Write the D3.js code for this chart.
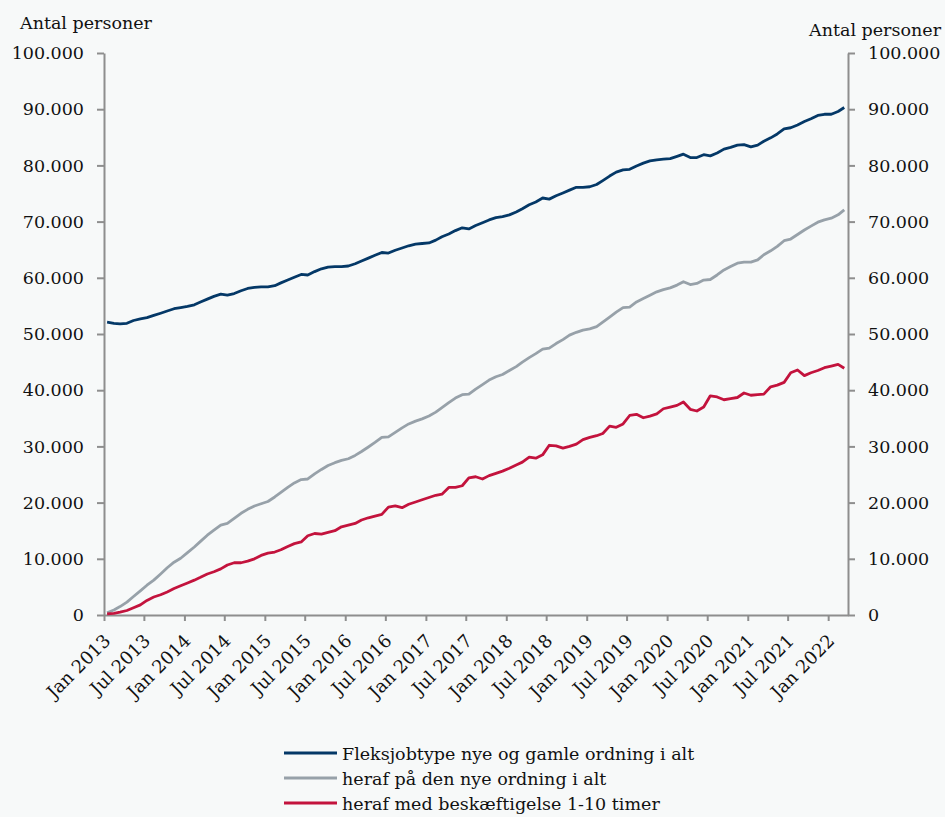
<!DOCTYPE html>
<html>
<head>
<meta charset="utf-8">
<script src="https://cdn.jsdelivr.net/npm/d3@7"></script>
<style>
  html, body { margin: 0; padding: 0; background: #f7f9f9; }
  svg { display: block; }
  text { font-family: "DejaVu Serif", "Liberation Serif", serif; fill: #111; }
</style>
</head>
<body>
<svg id="chart" width="945" height="817"></svg>
<script>
// ---- data ----
const startMonth = "2013-01";
const seriesNames = [
  "Fleksjobtype nye og gamle ordning i alt",
  "heraf på den nye ordning i alt",
  "heraf med beskæftigelse 1-10 timer"
];
const total = [
  52100,51900,51800,51900,52400,52700,52900,53300,53700,54100,54500,54700,
  54900,55200,55700,56200,56700,57100,56900,57200,57700,58100,58300,58400,
  58400,58600,59100,59600,60100,60600,60500,61100,61600,61900,62000,62000,
  62100,62500,63000,63500,64000,64500,64400,64900,65300,65700,66000,66100,
  66200,66700,67300,67800,68400,68900,68700,69300,69800,70300,70700,70900,
  71200,71700,72300,73000,73500,74200,74000,74600,75100,75600,76100,76100,
  76200,76600,77300,78100,78800,79200,79300,79900,80400,80800,81000,81100,
  81200,81600,82000,81400,81400,81900,81700,82200,82900,83200,83600,83700,
  83300,83600,84300,84900,85600,86500,86700,87200,87800,88300,88900,89100,
  89100,89600,90300
];
const newScheme = [
  400,900,1500,2300,3300,4300,5300,6200,7300,8400,9400,10100,
  11100,12100,13100,14200,15100,16000,16300,17200,18100,18800,19400,19800,
  20200,21000,21800,22700,23500,24100,24200,25100,25900,26600,27100,27500,
  27800,28400,29100,29900,30700,31600,31700,32500,33300,34000,34500,34900,
  35400,36100,36900,37800,38600,39200,39300,40200,41000,41800,42400,42800,
  43500,44200,45000,45800,46500,47300,47500,48300,49000,49800,50300,50700,
  50900,51300,52100,53000,53900,54700,54800,55700,56300,56900,57500,57900,
  58200,58700,59300,58800,59000,59600,59700,60500,61400,62000,62600,62800,
  62800,63200,64100,64800,65600,66600,66900,67700,68500,69200,69900,70300,
  70600,71200,72100
];
const hours1to10 = [
  200,300,500,800,1300,1800,2600,3200,3600,4100,4700,5200,
  5700,6200,6700,7300,7700,8200,8900,9300,9300,9600,10000,10600,
  11000,11200,11600,12200,12700,13000,14100,14500,14400,14700,15000,15700,
  16000,16300,16900,17300,17600,17900,19200,19400,19100,19700,20100,20500,
  20900,21300,21500,22700,22700,23000,24400,24600,24200,24800,25200,25600,
  26100,26700,27200,28100,27900,28500,30200,30100,29700,30000,30400,31200,
  31600,31900,32300,33600,33400,34000,35500,35700,35100,35400,35800,36700,
  37000,37300,37900,36600,36300,37000,39000,38800,38300,38500,38700,39500,
  39100,39200,39300,40600,40900,41400,43100,43600,42600,43100,43500,44000,
  44300,44600,43900
];
const yTicks = [0,10000,20000,30000,40000,50000,60000,70000,80000,90000,100000];
const xTickLabels = ["Jan 2013","Jul 2013","Jan 2014","Jul 2014","Jan 2015","Jul 2015",
  "Jan 2016","Jul 2016","Jan 2017","Jul 2017","Jan 2018","Jul 2018","Jan 2019",
  "Jul 2019","Jan 2020","Jul 2020","Jan 2021","Jul 2021","Jan 2022"];
const colors = ["#043867", "#97a1a9", "#c3133d"];
const axisLabel = "Antal personer";

// ---- build ----
(function () {
const svg = d3.select("#chart");
const W = 945, H = 817;
svg.append("rect").attr("width", W).attr("height", H).attr("fill", "#f7f9f9");

const parseMonth = d3.timeParse("%Y-%m");
const start = parseMonth(startMonth);
const months = total.map((_, i) => d3.timeDay.offset(d3.timeMonth.offset(start, i), 14));
const parseLabel = d3.timeParse("%b %Y");
const tickDates = xTickLabels.map(parseLabel);

const pL = 104, pR = 848, pT = 53, pB = 615;
const x = d3.scaleTime()
  .domain([start, d3.timeMonth.offset(start, 111)])
  .range([pL, pR]);
const y = d3.scaleLinear().domain([0, 100000]).range([pB, pT]);

const locale = d3.formatLocale({decimal: ",", thousands: ".", grouping: [3], currency: ["", ""]});
const fmt = locale.format(",");

const axisColor = "#8e8e8e";

const gL = svg.append("g").attr("transform", `translate(${pL},0)`)
  .call(d3.axisLeft(y).tickValues(yTicks).tickFormat(fmt).tickSize(7).tickSizeOuter(0).tickPadding(13));
const gR = svg.append("g").attr("transform", `translate(${pR},0)`)
  .call(d3.axisRight(y).tickValues(yTicks).tickFormat(fmt).tickSize(7).tickSizeOuter(0).tickPadding(13));
const gB = svg.append("g").attr("transform", `translate(0,${pB})`)
  .call(d3.axisBottom(x).tickValues(tickDates).tickFormat((d, i) => xTickLabels[i]).tickSize(6).tickSizeOuter(0));

[gL, gR, gB].forEach(g => {
  g.select(".domain").attr("stroke", axisColor).attr("stroke-width", 2);
  g.selectAll(".tick line").attr("stroke", axisColor).attr("stroke-width", 2);
  g.selectAll("text").style("font-family", '"DejaVu Serif", serif').attr("fill", "#111");
});
gL.selectAll("text").style("font-size", "17.5px");
gR.selectAll("text").style("font-size", "17.5px");
gB.selectAll("text")
  .style("font-size", "18px")
  .attr("text-anchor", "end")
  .attr("dy", "0")
  .attr("y", 0)
  .attr("transform", "translate(7,27) rotate(-45)");

const seriesData = [total, newScheme, hours1to10];
const line = d3.line().x((d, i) => x(months[i])).y(d => y(d));
seriesData.forEach((s, k) => {
  svg.append("path").datum(s)
    .attr("d", line)
    .attr("fill", "none")
    .attr("stroke", colors[k])
    .attr("stroke-width", 2.8)
    .attr("stroke-linejoin", "round");
});

svg.append("text").attr("x", 20).attr("y", 29).style("font-size", "17.5px").text(axisLabel);
svg.append("text").attr("x", 941).attr("y", 36).attr("text-anchor", "end").style("font-size", "17.5px").text(axisLabel);

const legY = [753, 778, 803];
seriesNames.forEach((n, k) => {
  svg.append("line").attr("x1", 284).attr("x2", 337).attr("y1", legY[k]).attr("y2", legY[k])
    .attr("stroke", colors[k]).attr("stroke-width", 2.8);
  svg.append("text").attr("x", 342).attr("y", legY[k] + 7).style("font-size", "17.5px").text(n);
});
})();
</script>
</body>
</html>
